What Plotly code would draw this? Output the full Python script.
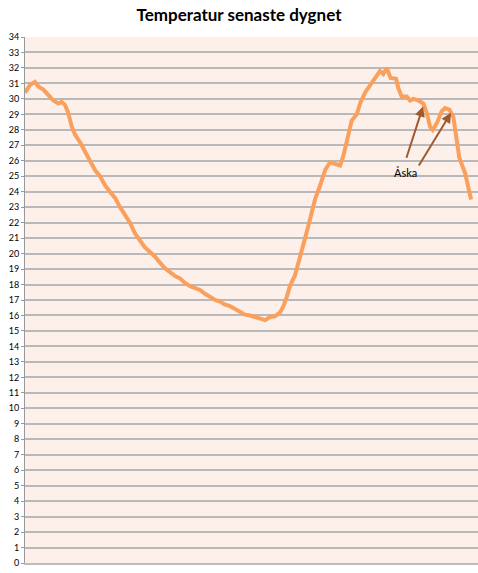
import plotly.graph_objects as go

# time of day (hours since start of last 24 h) and temperature (°C)
hours = [0.00, 0.27, 0.53, 0.71, 0.98, 1.25, 1.51, 1.78, 1.96, 2.14, 2.31, 2.50, 2.67, 2.94,
         3.21, 3.47, 3.74, 4.01, 4.28, 4.54, 4.81, 5.08, 5.35, 5.61, 5.88, 6.15, 6.41,
         6.68, 6.95, 7.22, 7.48, 7.75, 8.02, 8.28, 8.55, 8.82, 9.09, 9.35, 9.62, 9.89,
         10.16, 10.42, 10.69, 10.96, 11.22, 11.49, 11.76, 12.03, 12.29, 12.56, 12.83,
         13.10, 13.36, 13.63, 13.81, 13.99, 14.16, 14.43, 14.70, 14.97, 15.23, 15.50,
         15.77, 16.04, 16.30, 16.57, 16.84, 17.01, 17.20, 17.46, 17.73, 17.91, 18.17,
         18.35, 18.53, 18.80, 18.97, 19.15, 19.33, 19.54, 19.83, 19.95, 20.13, 20.40,
         20.58, 20.75, 21.02, 21.29, 21.47, 21.65, 21.79, 22.00, 22.27, 22.45, 22.68,
         22.89, 23.07, 23.21, 23.52, 23.70, 23.84]
temps = [30.4, 30.9, 31.1, 30.8, 30.6, 30.25, 29.9, 29.7, 29.8, 29.6, 29.1, 28.2, 27.7, 27.2,
         26.6, 25.9, 25.4, 25.0, 24.4, 24.0, 23.6, 23.0, 22.5, 22.0, 21.3, 20.8, 20.4,
         20.1, 19.8, 19.4, 19.05, 18.8, 18.55, 18.4, 18.1, 17.9, 17.75, 17.65, 17.4, 17.2,
         17.0, 16.9, 16.7, 16.6, 16.4, 16.2, 16.05, 16.0, 15.9, 15.8, 15.7,
         15.9, 15.95, 16.2, 16.6, 17.2, 17.9, 18.6, 19.7, 21.0, 22.2, 23.5,
         24.4, 25.4, 25.9, 25.8, 25.7, 26.3, 27.3, 28.6, 29.0, 29.7, 30.4,
         30.7, 31.0, 31.5, 31.8, 31.6, 32.0, 31.35, 31.3, 30.7, 30.15, 30.15,
         29.9, 30.0, 29.9, 29.7, 29.1, 28.2, 28.0, 28.4, 29.2, 29.4, 29.3,
         28.85, 27.3, 26.2, 25.2, 24.3, 23.5]

y_ticks = list(range(0, 35))

# annotation "Åska" (thunder) with two arrows
label_text = "Åska"
label_pos = (20.36, 25.25)
arrow_heads = [(21.27, 29.5), (22.77, 29.1)]
arrow_tails = [(20.36, 26.1), (21.0, 25.6)]

fig = go.Figure()
fig.add_trace(go.Scatter(x=hours, y=temps, mode="lines",
                         line=dict(color="#fa9f5c", width=4, shape="linear"),
                         hoverinfo="skip", showlegend=False))

for (hx, hy), (tx, ty) in zip(arrow_heads, arrow_tails):
    fig.add_annotation(x=hx, y=hy, ax=tx, ay=ty, xref="x", yref="y", axref="x", ayref="y",
                       text="", showarrow=True, arrowhead=2, arrowsize=1, arrowwidth=2,
                       arrowcolor="#9e5a2c")
fig.add_annotation(x=label_pos[0], y=label_pos[1], xref="x", yref="y", text=label_text,
                   showarrow=False, font=dict(family="Lato", size=11, color="black"))

fig.update_layout(
    width=478, height=573,
    margin=dict(l=25, r=0, t=37, b=10),
    paper_bgcolor="white",
    plot_bgcolor="#fdf0eb",
    title=dict(text="<b>Temperatur senaste dygnet</b>", x=0.5, xanchor="center",
               y=0.973, yanchor="middle",
               font=dict(family="Lato", size=17, color="black")),
    xaxis=dict(range=[0, 24.21], showgrid=False, showticklabels=False, zeroline=False,
               showline=True, linecolor="#bbbbbb", linewidth=2, ticks=""),
    yaxis=dict(range=[0, 34], tickvals=y_ticks, ticktext=[str(v) for v in y_ticks],
               showgrid=True, gridcolor="#b9b9b9", gridwidth=1.5, zeroline=False,
               showline=True, linecolor="#999999", linewidth=1,
               ticks="outside", ticklen=3, tickcolor="#999999",
               tickfont=dict(family="Lato", size=9, color="black")),
)

fig.write_html("out.html", config={"displayModeBar": False},
               post_script="document.body.style.margin='0';document.body.style.overflow='hidden';")
